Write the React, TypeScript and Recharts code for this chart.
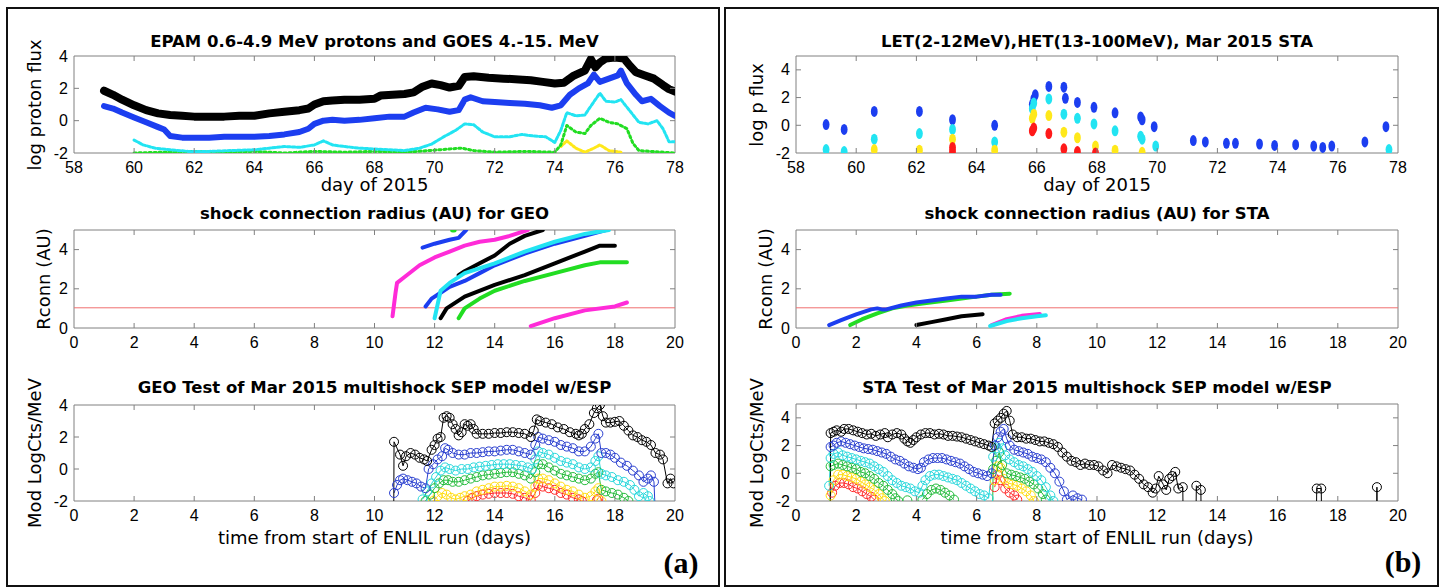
import React from "react"
import { ComposedChart, Line, Scatter, XAxis, YAxis, ReferenceArea, ReferenceLine } from "recharts"

// ---------- (a) GEO : EPAM / GOES observed fluxes ----------
const epamBlack = [[59,1.85],[59.3,1.6],[59.6,1.3],[60,0.95],[60.4,0.65],[60.8,0.45],[61.2,0.35],[61.6,0.3],[62,0.25],[62.5,0.25],[63,0.25],[63.5,0.3],[64,0.3],[64.5,0.45],[65,0.55],[65.5,0.65],[65.8,0.75],[66,1.0],[66.3,1.2],[66.6,1.25],[67,1.3],[67.5,1.3],[68,1.35],[68.2,1.55],[68.6,1.6],[69,1.65],[69.3,1.75],[69.6,2.1],[69.9,2.3],[70.2,2.2],[70.5,2.05],[70.8,2.15],[71,2.7],[71.3,2.75],[71.8,2.65],[72.3,2.6],[72.8,2.55],[73.2,2.5],[73.6,2.4],[74,2.3],[74.3,2.35],[74.6,2.75],[75,3.1],[75.2,3.8],[75.35,3.3],[75.5,3.6],[75.7,3.85],[76,3.9],[76.3,3.85],[76.5,3.4],[76.7,3.0],[77,2.8],[77.3,2.6],[77.6,2.2],[77.8,1.95],[78,1.8]]
const epamBlue = [[59,0.9],[59.3,0.75],[59.6,0.5],[60,0.2],[60.4,-0.1],[60.8,-0.4],[61,-0.55],[61.2,-0.95],[61.6,-1.05],[62,-1.05],[62.5,-1.05],[63,-1.0],[63.5,-1.0],[64,-1.0],[64.5,-0.95],[65,-0.85],[65.5,-0.7],[65.8,-0.5],[66,-0.2],[66.3,0.0],[66.6,0.05],[67,0.0],[67.5,0.05],[68,0.15],[68.5,0.25],[69,0.25],[69.3,0.5],[69.7,0.8],[70.1,0.7],[70.5,0.55],[70.8,0.65],[71,1.3],[71.2,1.45],[71.6,1.2],[72,1.15],[72.5,1.1],[73,1.05],[73.5,0.95],[73.9,0.8],[74.2,0.95],[74.5,1.6],[74.8,2.0],[75.1,2.3],[75.3,2.85],[75.5,2.4],[75.8,2.6],[76.1,2.8],[76.2,3.1],[76.4,2.3],[76.7,1.6],[76.9,1.2],[77.2,1.35],[77.5,0.9],[77.8,0.5],[78,0.3]]
const goesCyan = [[60,-1.2],[60.3,-1.5],[60.7,-1.7],[61.2,-1.8],[61.8,-1.9],[62.5,-1.9],[63.2,-1.85],[64,-1.8],[64.5,-1.7],[65,-1.6],[65.5,-1.65],[66,-1.5],[66.3,-1.25],[66.6,-1.5],[67,-1.6],[67.5,-1.7],[68,-1.75],[68.5,-1.8],[69,-1.85],[69.5,-1.7],[69.9,-1.45],[70.3,-1.0],[70.7,-0.6],[71,-0.2],[71.3,-0.25],[71.6,-0.7],[72,-1.0],[72.5,-1.0],[72.9,-0.85],[73.3,-0.95],[73.7,-1.0],[74,-1.35],[74.2,-0.6],[74.4,0.5],[74.7,0.3],[75,0.35],[75.2,0.9],[75.5,1.7],[75.7,1.2],[76,1.15],[76.2,1.3],[76.5,0.6],[76.8,-0.1],[77.1,-0.2],[77.4,0.0],[77.6,-0.5],[77.8,-1.3],[78,-1.3]]
const goesGreen = [[60,-2],[61,-1.95],[62,-1.9],[63,-1.95],[64,-1.9],[65,-2],[66,-1.9],[67,-1.95],[68,-1.9],[69,-1.95],[69.8,-1.85],[70.5,-1.75],[70.9,-1.7],[71.3,-1.85],[72,-1.95],[73,-1.9],[74,-1.95],[74.2,-1.5],[74.4,-0.3],[74.7,-0.7],[75,-0.8],[75.2,-0.3],[75.5,0.15],[75.8,-0.1],[76.1,-0.2],[76.4,-0.5],[76.6,-1.4],[76.8,-1.85],[77.2,-1.9],[78,-2]]
const goesYellow = [[74.2,-1.6],[74.4,-1.25],[74.7,-1.7],[75,-1.95],[75.3,-1.7],[75.5,-1.5],[75.8,-1.85],[76.2,-1.95]]

// ---------- (a) GEO : shock connection radius ----------
const geoMagentaA = [[10.6,0.6],[10.65,1.2],[10.7,1.8],[10.75,2.3],[11,2.6],[11.5,3.2],[12,3.6],[12.5,3.9],[13,4.2],[13.5,4.4],[14,4.5],[14.5,4.7],[15.1,5.0]]
const geoBlueA = [[11.6,4.1],[12,4.3],[12.5,4.5],[12.8,4.6],[13.05,5.0]]
const geoGreenDot = [[12.6,5.0],[12.65,5.0]]
const geoBlackA = [[12.8,2.7],[13,2.9],[13.5,3.3],[14,3.7],[14.5,4.3],[15,4.7],[15.6,5.0]]
const geoBlueB = [[11.7,1.1],[11.9,1.5],[12.2,1.8],[12.5,2.1],[13,2.4],[13.5,2.8],[14,3.2],[15,3.8],[16,4.3],[17,4.7],[17.7,5.0]]
const geoCyan = [[12.0,0.5],[12.1,1.2],[12.2,1.9],[12.5,2.3],[13,2.8],[14,3.3],[15,3.9],[16,4.4],[17,4.8],[17.8,5.0]]
const geoBlackB = [[12.2,0.5],[12.4,1.0],[13,1.6],[14,2.2],[15,2.7],[16,3.3],[17,3.9],[17.5,4.2],[18.0,4.2]]
const geoGreen = [[12.8,0.5],[13,1.0],[13.5,1.5],[14,1.9],[15,2.4],[16,2.8],[17,3.2],[17.5,3.35],[18.4,3.35]]
const geoMagentaB = [[15.2,0.1],[16,0.5],[17,0.9],[18,1.1],[18.4,1.3]]

// ---------- (a) GEO : model ----------
const geoModBlack = [[10.64,-3],[10.65,1.7],[10.85,0.9],[10.95,0.2],[11.05,0.8],[11.2,1.0],[11.35,0.9],[11.5,0.7],[11.65,0.6],[11.75,0.5],[11.9,1.2],[12.0,1.5],[12.1,1.9],[12.2,2.0],[12.3,3.2],[12.4,3.3],[12.5,3.2],[12.6,2.8],[12.7,2.5],[12.8,2.1],[12.9,2.3],[13.0,2.8],[13.1,2.7],[13.2,2.8],[13.3,2.5],[13.4,2.2],[13.6,2.2],[13.8,2.2],[14.0,2.25],[14.2,2.25],[14.4,2.3],[14.6,2.3],[14.8,2.25],[15.0,2.2],[15.2,2.0],[15.3,2.4],[15.4,3.1],[15.5,3.0],[15.7,2.9],[15.9,2.8],[16.1,2.6],[16.3,2.5],[16.5,2.3],[16.7,2.2],[16.8,2.1],[16.9,2.2],[17.0,2.5],[17.15,2.8],[17.3,3.5],[17.4,3.8],[17.5,4.0],[17.6,3.3],[17.7,2.9],[17.85,2.9],[18.0,2.95],[18.15,3.0],[18.3,2.7],[18.45,2.4],[18.6,2.1],[18.75,2.0],[18.9,1.8],[19.05,1.7],[19.2,1.5],[19.35,1.0],[19.5,0.9],[19.6,0.6],[19.75,-0.9],[19.85,-0.6],[19.95,-0.9]]
const geoModBlue = [[10.65,-1.5],[10.75,-1.0],[10.85,-0.7],[10.95,-0.6],[11.1,-0.7],[11.25,-0.8],[11.4,-0.9],[11.55,-1.1],[11.7,-1.2],[11.8,0.0],[11.95,0.3],[12.1,0.6],[12.25,0.8],[12.35,1.3],[12.45,1.2],[12.6,1.0],[12.8,0.9],[13.0,0.9],[13.2,1.0],[13.4,1.0],[13.6,1.05],[13.8,1.1],[14.0,1.1],[14.2,1.15],[14.4,1.2],[14.6,1.2],[14.8,1.1],[15.0,1.0],[15.2,0.9],[15.35,1.5],[15.45,2.0],[15.6,1.9],[15.8,1.8],[16.0,1.7],[16.2,1.5],[16.4,1.4],[16.6,1.3],[16.8,1.1],[17.0,1.1],[17.2,1.4],[17.35,1.9],[17.45,2.2],[17.55,1.0],[17.7,1.0],[17.85,0.9],[18.0,0.7],[18.2,0.4],[18.4,0.2],[18.6,-0.1],[18.8,-0.4],[18.95,-0.8],[19.1,-0.6],[19.2,-0.4],[19.3,-0.8],[19.35,-3]]
const geoModCyan = [[11.6,-1.9],[11.75,-1.4],[11.9,-0.9],[12.05,-0.5],[12.2,-0.1],[12.35,0.1],[12.5,0.0],[12.7,-0.1],[12.9,0.0],[13.1,0.0],[13.3,0.1],[13.5,0.15],[13.7,0.2],[13.9,0.25],[14.1,0.3],[14.3,0.3],[14.5,0.3],[14.7,0.25],[14.9,0.2],[15.1,0.1],[15.25,0.0],[15.35,0.6],[15.45,1.1],[15.6,1.0],[15.8,0.9],[16.0,0.7],[16.2,0.5],[16.4,0.4],[16.6,0.3],[16.8,0.1],[17.0,0.0],[17.2,0.1],[17.35,0.5],[17.45,0.8],[17.55,-0.3],[17.7,-0.4],[17.9,-0.5],[18.1,-0.7],[18.3,-0.8],[18.5,-1.0],[18.65,-1.3],[18.8,-1.7],[18.95,-1.5],[19.1,-1.7],[19.15,-2.0]]
const geoModGreen = [[11.7,-2.0],[11.85,-1.6],[12.0,-1.2],[12.15,-0.9],[12.3,-0.7],[12.45,-0.7],[12.6,-0.8],[12.8,-0.8],[13.0,-0.7],[13.2,-0.6],[13.4,-0.5],[13.6,-0.4],[13.8,-0.35],[14.0,-0.3],[14.2,-0.25],[14.4,-0.2],[14.6,-0.2],[14.8,-0.3],[15.0,-0.4],[15.2,-0.6],[15.35,-0.2],[15.45,0.3],[15.6,0.3],[15.8,0.1],[16.0,-0.1],[16.2,-0.3],[16.4,-0.4],[16.6,-0.5],[16.8,-0.6],[17.0,-0.7],[17.2,-0.6],[17.35,-0.3],[17.45,-0.2],[17.55,-1.3],[17.7,-1.4],[17.9,-1.5],[18.1,-1.6],[18.3,-1.8],[18.45,-2.0]]
const geoModYellow = [[11.95,-2.0],[12.1,-1.7],[12.25,-1.5],[12.4,-1.6],[12.55,-1.8],[12.7,-1.9],[12.85,-1.8],[13.0,-1.7],[13.2,-1.6],[13.4,-1.4],[13.6,-1.3],[13.8,-1.2],[14.0,-1.1],[14.2,-1.1],[14.4,-1.05],[14.6,-1.1],[14.8,-1.2],[15.0,-1.4],[15.2,-1.6],[15.35,-1.1],[15.45,-0.6],[15.6,-0.6],[15.8,-0.7],[16.0,-0.9],[16.2,-1.1],[16.4,-1.3],[16.6,-1.4],[16.8,-1.6],[17.0,-1.8],[17.2,-1.7],[17.35,-1.4],[17.45,-1.2],[17.55,-2.0]]
const geoModRed = [[13.1,-2.0],[13.25,-1.8],[13.4,-1.7],[13.6,-1.6],[13.8,-1.55],[14.0,-1.5],[14.2,-1.5],[14.4,-1.5],[14.6,-1.55],[14.8,-1.7],[15.0,-1.8],[15.2,-1.95],[15.35,-1.5],[15.45,-1.0],[15.6,-1.1],[15.8,-1.2],[16.0,-1.3],[16.2,-1.5],[16.4,-1.6],[16.6,-1.8],[16.8,-1.9],[16.9,-2.0],[17.35,null],[17.4,-1.95],[17.45,-1.85]]

// ---------- (b) STA : LET / HET observed fluxes ----------
const staBlue = [[59.0,0.05],[59.6,-0.3],[60.6,1.0],[62.1,1.0],[63.2,0.4],[64.6,0.0],[65.85,1.5],[65.9,1.9],[65.95,2.2],[66.4,2.8],[66.9,2.75],[66.95,1.95],[67.35,1.65],[67.9,1.3],[68.6,0.9],[69.45,0.6],[69.5,0.4],[69.9,-0.1],[71.2,-1.1],[71.6,-1.2],[72.3,-1.3],[72.6,-1.3],[73.4,-1.35],[73.9,-1.45],[74.6,-1.4],[75.2,-1.5],[75.5,-1.6],[75.8,-1.5],[76.9,-1.2],[77.6,-0.1]]
const staCyan = [[59.0,-1.75],[59.6,-1.9],[60.6,-1.0],[62.1,-0.6],[63.2,-0.3],[64.6,-1.2],[65.85,1.2],[65.9,1.6],[66.4,1.9],[66.9,0.8],[67.35,0.5],[67.9,0.1],[68.6,-0.4],[69.45,-0.8],[69.5,-1.0],[69.95,-1.5],[77.7,-1.75]]
const staYellow = [[60.6,-1.75],[62.1,-1.8],[63.2,-1.0],[64.6,-1.8],[65.85,0.5],[65.9,0.8],[66.4,0.7],[66.9,-0.5],[67.35,-0.9],[67.95,-1.5],[68.6,-1.8],[69.5,-1.95]]
const staRed = [[63.2,-1.6],[63.2,-1.9],[65.85,-0.4],[65.9,-0.2],[66.4,-0.6],[66.9,-1.7],[67.35,-1.9],[67.95,-2.0]]

// ---------- (b) STA : shock connection radius ----------
const staBlueR = [[1.1,0.15],[1.5,0.4],[2.0,0.7],[2.5,0.95],[2.7,1.0],[2.85,0.95],[3.0,0.95],[3.5,1.15],[4.0,1.3],[4.5,1.4],[5.0,1.5],[5.5,1.6],[6.0,1.6],[6.5,1.7],[6.8,1.7]]
const staGreenR = [[1.8,0.15],[2.2,0.45],[2.7,0.75],[3.2,1.0],[3.7,1.15],[4.2,1.25],[5.0,1.4],[5.5,1.5],[6.0,1.6],[6.5,1.7],[7.1,1.75]]
const staBlackR = [[4.0,0.15],[4.5,0.3],[5.0,0.45],[5.5,0.6],[6.2,0.7]]
const staMagentaR = [[6.5,0.15],[7.0,0.45],[7.5,0.62],[8.1,0.72]]
const staCyanR = [[6.45,0.1],[7.0,0.35],[7.5,0.5],[8.0,0.6],[8.3,0.65]]

// ---------- (b) STA : model ----------
const staModBlack = [[1.14,-3],[1.15,2.9],[1.25,3.0],[1.35,3.1],[1.5,3.0],[1.6,3.2],[1.75,3.2],[1.9,3.1],[2.05,3.0],[2.2,2.9],[2.35,2.8],[2.5,2.85],[2.65,2.7],[2.8,2.8],[2.95,2.9],[3.05,2.6],[3.2,2.8],[3.35,2.9],[3.5,2.8],[3.6,2.5],[3.7,2.3],[3.8,2.2],[3.9,2.4],[4.0,2.6],[4.15,2.8],[4.3,2.9],[4.45,2.9],[4.6,2.8],[4.75,2.85],[4.9,2.8],[5.05,2.7],[5.2,2.7],[5.35,2.65],[5.5,2.6],[5.65,2.5],[5.8,2.4],[5.95,2.3],[6.1,2.2],[6.25,2.1],[6.4,2.0],[6.5,1.9],[6.6,3.6],[6.7,3.8],[6.8,4.0],[6.9,4.3],[7.0,4.5],[7.1,3.8],[7.2,2.8],[7.35,2.6],[7.5,2.6],[7.65,2.5],[7.8,2.5],[7.95,2.4],[8.1,2.3],[8.25,2.3],[8.4,2.2],[8.55,2.1],[8.7,1.9],[8.85,1.5],[9.0,1.2],[9.15,0.9],[9.3,0.8],[9.45,0.6],[9.6,0.7],[9.75,0.6],[9.9,0.6],[10.05,0.5],[10.2,0.2],[10.35,0.0],[10.5,0.6],[10.65,0.5],[10.8,0.4],[10.95,0.3],[11.1,0.2],[11.25,-0.1],[11.4,-0.4],[11.55,-0.8],[11.7,-1.0],[11.85,-1.4],[11.95,-1.1],[12.05,-0.2],[12.2,-0.8],[12.3,-1.2],[12.4,-0.4],[12.5,-0.2],[12.6,0.1],[12.7,-1.1],[12.85,-1.0],[12.86,-3],[13.29,-3],[13.3,-0.9],[13.45,-1.2],[13.46,-3],[17.29,-3],[17.3,-1.1],[17.45,-1.1],[17.46,-3],[19.29,-3],[19.3,-1.0],[19.31,-3]]
const staModBlue = [[1.15,1.9],[1.25,2.0],[1.35,2.2],[1.5,2.3],[1.65,2.2],[1.8,2.1],[1.95,2.0],[2.1,1.9],[2.25,1.8],[2.4,1.75],[2.55,1.7],[2.7,1.6],[2.85,1.5],[3.0,1.4],[3.15,1.2],[3.3,1.0],[3.45,0.9],[3.6,0.7],[3.75,0.5],[3.9,0.4],[4.05,0.3],[4.15,0.4],[4.25,0.8],[4.4,1.0],[4.55,1.1],[4.7,1.1],[4.85,1.1],[5.0,1.0],[5.15,0.9],[5.3,0.8],[5.45,0.7],[5.6,0.5],[5.75,0.3],[5.9,0.1],[6.05,0.0],[6.2,-0.1],[6.35,-0.2],[6.5,0.0],[6.6,2.0],[6.7,2.6],[6.8,3.0],[6.9,3.2],[7.0,2.5],[7.1,2.0],[7.25,1.7],[7.4,1.6],[7.55,1.5],[7.7,1.4],[7.85,1.2],[8.0,1.1],[8.15,1.0],[8.3,0.8],[8.45,0.4],[8.6,0.0],[8.75,-0.6],[8.9,-1.3],[9.0,-1.9],[9.2,-1.6],[9.35,-1.8],[9.5,-1.9]]
const staModCyan = [[1.1,-0.9],[1.15,1.1],[1.25,1.4],[1.4,1.5],[1.55,1.3],[1.7,1.2],[1.85,1.1],[2.0,1.0],[2.15,0.9],[2.3,0.8],[2.45,0.7],[2.6,0.5],[2.75,0.3],[2.9,0.1],[3.05,-0.2],[3.2,-0.5],[3.35,-0.7],[3.5,-0.9],[3.65,-1.0],[3.8,-1.1],[3.95,-1.3],[4.1,-1.4],[4.2,-0.9],[4.3,-0.5],[4.45,-0.2],[4.6,-0.1],[4.75,-0.1],[4.9,-0.2],[5.05,-0.3],[5.2,-0.4],[5.35,-0.5],[5.5,-0.7],[5.65,-0.9],[5.8,-1.1],[5.95,-1.3],[6.1,-1.5],[6.25,-1.6],[6.4,-1.8],[6.55,1.2],[6.65,1.8],[6.75,2.2],[6.85,1.8],[6.95,1.3],[7.1,1.0],[7.25,0.8],[7.4,0.6],[7.55,0.5],[7.7,0.3],[7.85,0.1],[8.0,-0.2],[8.15,-0.5],[8.3,-1.0],[8.45,-1.6],[8.55,-2.0]]
const staModGreen = [[1.12,-3],[1.15,0.5],[1.25,0.6],[1.4,0.7],[1.55,0.6],[1.7,0.5],[1.85,0.4],[2.0,0.3],[2.15,0.1],[2.3,0.0],[2.45,-0.2],[2.6,-0.4],[2.75,-0.7],[2.9,-0.9],[3.05,-1.2],[3.2,-1.5],[3.3,-1.8],[3.4,-2.0],[3.55,null],[3.7,-1.95],[3.85,null],[4.2,-1.9],[4.35,-1.5],[4.5,-1.2],[4.65,-1.1],[4.8,-1.2],[4.95,-1.4],[5.1,-1.6],[5.25,-1.9],[5.4,null],[6.53,-3],[6.55,0.3],[6.65,0.9],[6.75,1.5],[6.85,0.6],[7.0,0.0],[7.15,-0.1],[7.3,-0.2],[7.45,-0.3],[7.6,-0.4],[7.75,-0.6],[7.9,-0.8],[8.05,-1.1],[8.2,-1.5],[8.3,-1.9]]
const staModYellow = [[1.15,-1.6],[1.25,-0.5],[1.4,-0.1],[1.55,-0.1],[1.7,-0.2],[1.85,-0.3],[2.0,-0.4],[2.15,-0.6],[2.3,-0.8],[2.45,-1.0],[2.6,-1.2],[2.75,-1.5],[2.85,-1.8],[2.95,-2.0],[3.1,null],[6.6,-0.5],[6.7,0.5],[6.8,0.4],[6.9,-0.4],[7.05,-0.7],[7.2,-0.8],[7.35,-0.9],[7.5,-1.1],[7.65,-1.3],[7.8,-1.6],[7.9,-2.0]]
const staModRed = [[1.2,-1.4],[1.3,-0.9],[1.45,-0.7],[1.6,-0.7],[1.75,-0.8],[1.9,-1.0],[2.05,-1.1],[2.2,-1.3],[2.35,-1.5],[2.5,-1.7],[2.6,-1.9],[2.7,null],[6.6,-1.0],[6.7,-0.1],[6.8,-0.5],[6.95,-1.1],[7.1,-1.4],[7.25,-1.6],[7.35,-1.9]]

const dayTicks = [58, 60, 62, 64, 66, 68, 70, 72, 74, 76, 78]
const runTicks = [0, 2, 4, 6, 8, 10, 12, 14, 16, 18, 20]
const fluxTicks = [-2, 0, 2, 4]
const rTicks = [0, 2, 4]

const C = {
  black: "#000000",
  blue: "#1c3ef0",
  cyan: "#22e4f2",
  green: "#22dd22",
  yellow: "#ffe81a",
  red: "#ff1a1a",
  magenta: "#ff2bd8",
  mBlue: "#2a3fd0",
  mCyan: "#28d8dc",
  mGreen: "#22bb3a",
  mYellow: "#ffdd10",
  mRed: "#ff2a2a",
}

const toPts = (a: (number | null)[][]) => a.map(([x, y]) => ({ x, y }))

const TICK_FONT = "'Liberation Sans', Arial, sans-serif"
const LABEL_FONT = "'DejaVu Sans', sans-serif"
const BOX = "#808080"

function XTick(props: any) {
  const { x, y, payload, h, first, last } = props
  const edge = payload.value === first || payload.value === last
  return (
    <g>
      {!edge && <line x1={x} x2={x} y1={y} y2={y - 5} stroke={BOX} />}
      {!edge && <line x1={x} x2={x} y1={y - h} y2={y - h + 5} stroke={BOX} />}
      <text x={x} y={y + 14} textAnchor="middle" dominantBaseline="central" fontFamily={TICK_FONT} fontSize={16} fill="#000">
        {payload.value}
      </text>
    </g>
  )
}

function YTick(props: any) {
  const { x, y, payload, w, first, last } = props
  const edge = payload.value === first || payload.value === last
  return (
    <g>
      {!edge && <line x1={x} x2={x + 5} y1={y} y2={y} stroke={BOX} />}
      {!edge && <line x1={x + w - 5} x2={x + w} y1={y} y2={y} stroke={BOX} />}
      <text x={x - 6} y={y} textAnchor="end" dominantBaseline="central" fontFamily={TICK_FONT} fontSize={16} fill="#000">
        {payload.value}
      </text>
    </g>
  )
}

function Axes(props: {
  left: number; top: number; w: number; h: number
  xd: [number, number]; yd: [number, number]; xt: number[]; yt: number[]
  children: React.ReactNode
}) {
  const { left, top, w, h, xd, yd, xt, yt, children } = props
  const ML = 60, MT = 10, MR = 10, XH = 30
  return (
    <div style={{ position: "absolute", left: left - ML, top: top - MT }}>
      <ComposedChart width={w + ML + MR} height={h + MT + XH} margin={{ top: MT, right: MR, bottom: 0, left: 0 }}>
        <XAxis type="number" dataKey="x" domain={xd} ticks={xt} interval={0} allowDataOverflow height={XH}
          axisLine={false} tickLine={false} tickSize={0} tickMargin={0}
          tick={<XTick h={h} first={xd[0]} last={xd[1]} />} />
        <YAxis type="number" domain={yd} ticks={yt} interval={0} allowDataOverflow width={ML}
          axisLine={false} tickLine={false} tickSize={0} tickMargin={0}
          tick={<YTick w={w} first={yd[0]} last={yd[1]} />} />
        <ReferenceArea x1={xd[0]} x2={xd[1]} y1={yd[0]} y2={yd[1]} fill="none" stroke={BOX} strokeWidth={1} />
        {children}
      </ComposedChart>
    </div>
  )
}

function band(key: string, data: (number | null)[][], color: string, width: number, dash?: string) {
  return (
    <Line key={key} data={toPts(data)} dataKey="y" stroke={color} strokeWidth={width} dot={false}
      strokeDasharray={dash} strokeLinecap="round" strokeLinejoin="round" isAnimationActive={false} />
  )
}

function ringLine(key: string, data: (number | null)[][], color: string, ymin: number) {
  const dot = (p: any) => {
    const v = p.payload ? p.payload.y : null
    if (v == null || v < ymin || p.cx == null || p.cy == null) return <g key={`${key}-${p.index}`} />
    return <circle key={`${key}-${p.index}`} cx={p.cx} cy={p.cy} r={4.5} fill="none" stroke={color} strokeWidth={1} />
  }
  return (
    <Line key={key} data={toPts(data)} dataKey="y" stroke={color} strokeWidth={1} dot={dot} activeDot={false}
      isAnimationActive={false} />
  )
}

function blobs(key: string, data: number[][], color: string) {
  const shape = (p: any) => <ellipse cx={p.cx} cy={p.cy} rx={3.4} ry={5.5} fill={color} />
  return <Scatter key={key} data={toPts(data)} dataKey="y" fill={color} shape={shape} isAnimationActive={false} />
}

function Txt(props: { x: number; y: number; size: number; bold?: boolean; rotate?: boolean; font?: string; children: React.ReactNode }) {
  const { x, y, size, bold, rotate, font, children } = props
  return (
    <div style={{
      position: "absolute", left: x, top: y, whiteSpace: "nowrap", lineHeight: 1,
      transform: `translate(-50%, -50%)${rotate ? " rotate(-90deg)" : ""}`,
      fontFamily: font || LABEL_FONT, fontSize: size, fontWeight: bold ? "bold" : "normal", color: "#000",
    }}>{children}</div>
  )
}

export default function App() {
  const LX = 74, RX = 796, LW = 601, RW = 602
  return (
    <div style={{ position: "absolute", left: 0, top: 0, width: 1443, height: 588, background: "#fff", overflow: "hidden" }}>
      <div style={{ position: "absolute", left: 6, top: 7, width: 710, height: 576, border: "2px solid #111" }} />
      <div style={{ position: "absolute", left: 724, top: 7, width: 711, height: 576, border: "2px solid #111" }} />

      {/* ---------- panel (a) ---------- */}
      <Txt x={LX + LW / 2} y={42} size={16.5} bold>EPAM 0.6-4.9 MeV protons and GOES 4.-15. MeV</Txt>
      <Txt x={35} y={105} size={18} rotate>log proton flux</Txt>
      <Txt x={LX + LW / 2} y={185} size={18}>day of 2015</Txt>
      <Axes left={LX} top={56} w={LW} h={97} xd={[58, 78]} yd={[-2, 4]} xt={dayTicks} yt={fluxTicks}>
        {band("gy", goesYellow, C.yellow, 3, "2 2")}
        {band("gg", goesGreen, C.green, 3, "2 3")}
        {band("gc", goesCyan, C.cyan, 3, "3 2")}
        {band("eb", epamBlue, C.blue, 6)}
        {band("ek", epamBlack, C.black, 8)}
      </Axes>

      <Txt x={LX + LW / 2} y={214} size={16.5} bold>shock connection radius (AU) for GEO</Txt>
      <Txt x={44} y={279} size={18} rotate>Rconn (AU)</Txt>
      <Axes left={LX} top={230} w={LW} h={98} xd={[0, 20]} yd={[0, 5]} xt={runTicks} yt={rTicks}>
        <ReferenceLine y={1.03} stroke="#f07070" strokeWidth={1} ifOverflow="hidden" />
        {band("ma", geoMagentaA, C.magenta, 4)}
        {band("ba", geoBlueA, C.blue, 4)}
        {band("gd", geoGreenDot, C.green, 5)}
        {band("ka", geoBlackA, C.black, 4)}
        {band("bb", geoBlueB, C.blue, 4)}
        {band("cy", geoCyan, C.cyan, 4)}
        {band("kb", geoBlackB, C.black, 4)}
        {band("gr", geoGreen, C.green, 4)}
        {band("mb", geoMagentaB, C.magenta, 4)}
      </Axes>

      <Txt x={LX + LW / 2} y={388} size={16.5} bold>GEO Test of Mar 2015 multishock SEP model w/ESP</Txt>
      <Txt x={35} y={453} size={18} rotate>Mod LogCts/MeV</Txt>
      <Txt x={LX + LW / 2} y={538} size={18}>time from start of ENLIL run (days)</Txt>
      <Axes left={LX} top={405} w={LW} h={96} xd={[0, 20]} yd={[-2, 4]} xt={runTicks} yt={fluxTicks}>
        {ringLine("mr", geoModRed, C.mRed, -2)}
        {ringLine("my", geoModYellow, C.mYellow, -2)}
        {ringLine("mg", geoModGreen, C.mGreen, -2)}
        {ringLine("mc", geoModCyan, C.mCyan, -2)}
        {ringLine("mb", geoModBlue, C.mBlue, -2)}
        {ringLine("mk", geoModBlack, C.black, -2)}
      </Axes>
      <Txt x={681} y={563} size={30} bold font="'Liberation Serif', 'Times New Roman', serif">(a)</Txt>

      {/* ---------- panel (b) ---------- */}
      <Txt x={RX + RW / 2} y={42} size={16.5} bold>LET(2-12MeV),HET(13-100MeV), Mar 2015 STA</Txt>
      <Txt x={757} y={105} size={18} rotate>log p flux</Txt>
      <Txt x={RX + RW / 2} y={185} size={18}>day of 2015</Txt>
      <Axes left={RX} top={56} w={RW} h={97} xd={[58, 78]} yd={[-2, 5]} xt={dayTicks} yt={fluxTicks}>
        {blobs("sb", staBlue, C.blue)}
        {blobs("sc", staCyan, C.cyan)}
        {blobs("sy", staYellow, C.yellow)}
        {blobs("sr", staRed, C.red)}
      </Axes>

      <Txt x={RX + RW / 2} y={214} size={16.5} bold>shock connection radius (AU) for STA</Txt>
      <Txt x={766} y={279} size={18} rotate>Rconn (AU)</Txt>
      <Axes left={RX} top={230} w={RW} h={98} xd={[0, 20]} yd={[0, 5]} xt={runTicks} yt={rTicks}>
        <ReferenceLine y={1.03} stroke="#f07070" strokeWidth={1} ifOverflow="hidden" />
        {band("rk", staBlackR, C.black, 4)}
        {band("rg", staGreenR, C.green, 4)}
        {band("rb", staBlueR, C.blue, 4)}
        {band("rm", staMagentaR, C.magenta, 4)}
        {band("rc", staCyanR, C.cyan, 4)}
      </Axes>

      <Txt x={RX + RW / 2} y={388} size={16.5} bold>STA Test of Mar 2015 multishock SEP model w/ESP</Txt>
      <Txt x={757} y={453} size={18} rotate>Mod LogCts/MeV</Txt>
      <Txt x={RX + RW / 2} y={538} size={18}>time from start of ENLIL run (days)</Txt>
      <Axes left={RX} top={404} w={RW} h={97} xd={[0, 20]} yd={[-2, 5]} xt={runTicks} yt={fluxTicks}>
        {ringLine("nr", staModRed, C.mRed, -2)}
        {ringLine("ny", staModYellow, C.mYellow, -2)}
        {ringLine("ng", staModGreen, C.mGreen, -2)}
        {ringLine("nc", staModCyan, C.mCyan, -2)}
        {ringLine("nb", staModBlue, C.mBlue, -2)}
        {ringLine("nk", staModBlack, C.black, -2)}
      </Axes>
      <Txt x={1403} y={562} size={30} bold font="'Liberation Serif', 'Times New Roman', serif">(b)</Txt>
    </div>
  )
}
